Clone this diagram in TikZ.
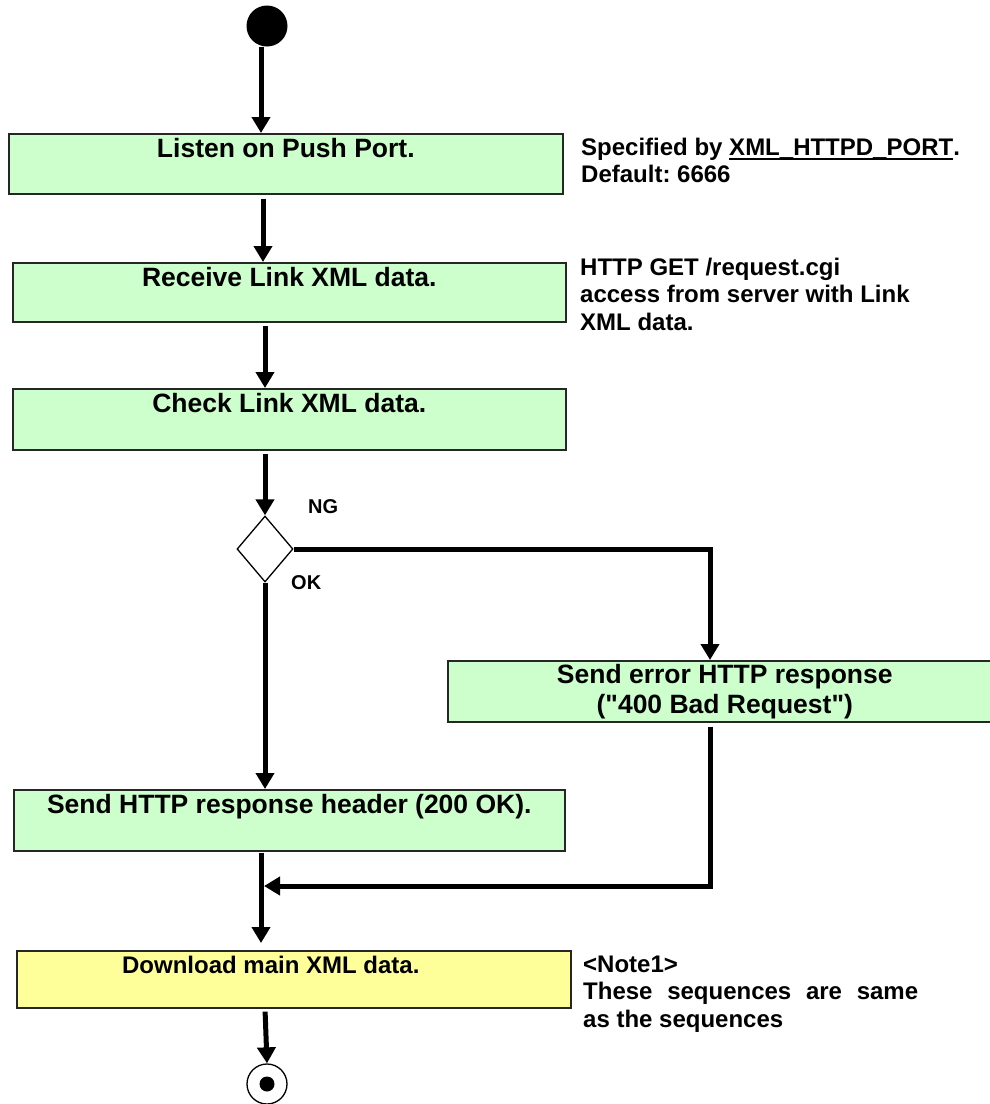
\documentclass[tikz,border=0pt]{standalone}
\usepackage{fontspec}
\setmainfont{Liberation Sans}[Ligatures=TeXOff]
\usetikzlibrary{arrows.meta,shapes.geometric}
\definecolor{boxgreen}{HTML}{CCFFCC}
\definecolor{boxyellow}{HTML}{FFFF99}
\newcommand\myuline[1]{\sbox0{#1}\rlap{\rule[-5pt]{\wd0}{2.2pt}}\usebox0}
\frenchspacing
\begin{document}
\begin{tikzpicture}[x=1pt,y=-1pt,
  boxbase/.style={draw=black!85, line width=1.6pt, fill=boxgreen, inner sep=0pt, anchor=north west,
    font=\bfseries\fontsize{26.5}{30}\selectfont},
  box/.style={boxbase, text height=24pt},
  flow/.style={line width=5pt, -{Triangle[length=16pt,width=18pt]}},
  note/.style={inner sep=0pt, anchor=base west, font=\bfseries\fontsize{24}{27.5}\selectfont},
  lab/.style={inner sep=0pt, anchor=base west, font=\bfseries\fontsize{20}{24}\selectfont}]
\useasboundingbox (0,0) rectangle (990,1104);
\clip (0,0) rectangle (990,1104);
% column coordinates
\coordinate (c1) at (261,0);
\coordinate (c2) at (263,0);
\coordinate (c3) at (265,0);
\coordinate (c4) at (710,0);
\coordinate (merge) at (264,886);
% start
\node[circle, fill=black, inner sep=0pt, minimum size=41pt] (start) at (267,26) {};
% boxes
\node[box, minimum width=554pt, text depth=36pt] (box1) at (8,133) {Listen on Push Port.};
\node[box, minimum width=553pt, text depth=35pt] (box2) at (12,262) {Receive Link XML data.};
\node[box, minimum width=553pt, text depth=37pt] (box3) at (12,388) {Check Link XML data.};
\node[diamond, draw=black, line width=1.3pt, fill=white, inner sep=0pt,
      minimum width=56pt, minimum height=66pt] (dia) at (265,549) {};
\node[boxbase, minimum width=554pt, minimum height=61pt, align=center] (box4) at (447,660)
  {Send error HTTP response\\("400 Bad Request")};
\node[box, minimum width=551pt, text depth=37pt] (box5) at (13,789) {Send HTTP response header (200 OK).};
\node[box, fill=boxyellow, minimum width=554pt, text height=23pt, text depth=34pt,
      font=\bfseries\fontsize{24}{28}\selectfont] (box6) at (16,950) {Download main XML data.\hspace*{46pt}};
\node[circle, draw=black, line width=1.3pt, fill=white, inner sep=0pt, minimum size=40pt] (endc) at (267,1084) {};
\node[circle, fill=black, inner sep=0pt, minimum size=15pt] (enddot) at (endc.center) {};
% labels
\node[lab] (ng) at (308,513) {NG};
\node[lab] (ok) at (291,589) {OK};
% notes
\node[note] (note1) at (581,155) {\vtop{\hbox{Specified by \myuline{XML\_HTTPD\_PORT}.}\hbox{Default: 6666}}};
\node[note] (note2) at (580,275) {\vtop{\hbox{HTTP GET /request.cgi}\hbox{access from server with Link}\hbox{XML data.}}};
\node[note] (note3) at (583,972) {\vtop{\hbox{<Note1>}\hbox{\makebox[335pt][s]{These sequences are same}}\hbox{as the sequences}}};
% connectors
\draw[flow] (start.south -| c1) -- (box1.north -| c1);
\draw[flow, shorten <=4pt] (box1.south -| c2) -- (box2.north -| c2);
\draw[flow, shorten <=3pt] (box2.south -| c3) -- (box3.north -| c3);
\draw[flow, shorten <=3pt] (box3.south -| c3) -- (dia.north);
\draw[flow] (dia.east) -| (box4.north -| c4);
\draw[flow] (dia.south) -- (box5.north -| c3);
\draw[flow, shorten <=4pt] (box4.south -| c4) -- (c4 |- merge) -- (merge);
\draw[flow, shorten <=1pt, shorten >=7pt] (box5.south -| c1) -- (box6.north -| c1);
\draw[flow, shorten <=3pt] (box6.south -| c3) -- (endc.north);
\end{tikzpicture}
\end{document}
